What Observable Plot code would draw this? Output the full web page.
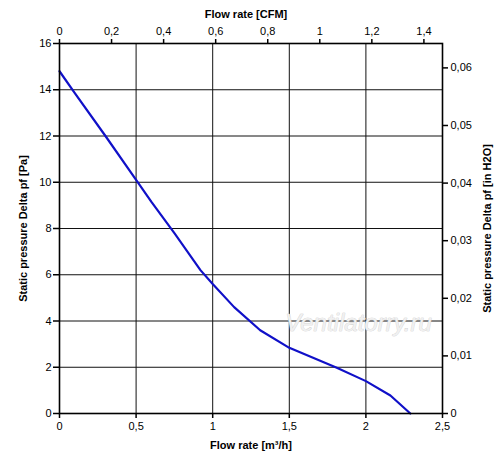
<!DOCTYPE html>
<html>
<head>
<meta charset="utf-8">
<script src="https://cdn.jsdelivr.net/npm/d3@7"></script>
<script src="https://cdn.jsdelivr.net/npm/@observablehq/plot@0.6"></script>
<style>
  html, body { margin: 0; padding: 0; background: #fff; }
  svg { font-family: "Liberation Sans", Arial, sans-serif; }
</style>
</head>
<body>
<div id="chart"></div>
<script>
// Curve: flow rate [m³/h] vs static pressure [Pa]
const flow     = [0, 0.1, 0.3, 0.5, 0.6, 0.75, 0.92, 1.0, 1.14, 1.31, 1.5, 1.81, 2.0, 2.16, 2.29];
const pressure = [14.8, 13.85, 12.0, 10.1, 9.15, 7.8, 6.2, 5.6, 4.6, 3.6, 2.84, 1.98, 1.40, 0.78, 0];

const xTicks    = [0, 0.5, 1, 1.5, 2, 2.5];
const yTicks    = [0, 2, 4, 6, 8, 10, 12, 14, 16];
const cfmTicks  = [0, 0.2, 0.4, 0.6, 0.8, 1, 1.2, 1.4];
const inh2oTicks = [0, 0.01, 0.02, 0.03, 0.04, 0.05, 0.06];
const xGrid = [0.5, 1, 1.5, 2];
const yGrid = [2, 4, 6, 8, 10, 12, 14];

const CFM = 1.69901;     // m³/h per CFM
const INH2O = 249.089;   // Pa per inH2O

const fmt = d => String(d).replace(".", ",");
const data = flow.map((f, i) => ({f, p: pressure[i]}));

const chart = Plot.plot({
  width: 500,
  height: 461,
  marginLeft: 59,
  marginRight: 58,
  marginTop: 43,
  marginBottom: 48,
  style: {fontFamily: "Liberation Sans, Arial, sans-serif", fontSize: "11px", background: "#fff", color: "#000"},
  x: {domain: [0, 2.5]},
  y: {domain: [0, 16]},
  marks: [
    Plot.gridX(xGrid, {stroke: "#111", strokeOpacity: 1, strokeWidth: 1}),
    Plot.gridY(yGrid, {stroke: "#111", strokeOpacity: 1, strokeWidth: 1}),
    Plot.text(["Ventilatorry.ru"], {frameAnchor: "bottom-right", dx: -84, dy: -83, textAnchor: "middle",
      fontSize: 24, fontStyle: "italic", fill: "#f0f0f0", stroke: "#c8c8c8", strokeWidth: 0.6}),
    Plot.line(data, {x: "f", y: "p", stroke: "#1010c8", strokeWidth: 2.2}),
    Plot.frame({stroke: "#000", strokeWidth: 1.6}),
    Plot.axisX({anchor: "bottom", ticks: xTicks, tickFormat: fmt, tickSize: 5, tickPadding: 4, label: null, strokeWidth: 1.5}),
    Plot.axisX({anchor: "top", ticks: cfmTicks.map(c => c * CFM), tickFormat: d => fmt(+(d / CFM).toFixed(2)), tickSize: 5, tickPadding: 4, label: null, strokeWidth: 1.5}),
    Plot.axisY({anchor: "left", ticks: yTicks, tickFormat: fmt, tickSize: 6, tickPadding: 2, label: null, strokeWidth: 1.5}),
    Plot.axisY({anchor: "right", ticks: inh2oTicks.map(v => v * INH2O), tickFormat: d => fmt(+(d / INH2O).toFixed(3)), tickSize: 5, tickPadding: 3, label: null, strokeWidth: 1.5}),
    Plot.text(["Flow rate [CFM]"], {frameAnchor: "top", dy: -33, dx: -5, fontWeight: "bold", fontSize: 11}),
    Plot.text(["Flow rate [m³/h]"], {frameAnchor: "bottom", dy: 35, dx: 0, fontWeight: "bold", fontSize: 11}),
    Plot.text(["Static pressure Delta pf [Pa]"], {frameAnchor: "left", dx: -36, rotate: -90, textAnchor: "middle", fontWeight: "bold", fontSize: 11}),
    Plot.text(["Static pressure Delta pf [in H2O]"], {frameAnchor: "right", dx: 45, rotate: -90, textAnchor: "middle", fontWeight: "bold", fontSize: 11})
  ]
});
document.getElementById("chart").appendChild(chart);
</script>
</body>
</html>
